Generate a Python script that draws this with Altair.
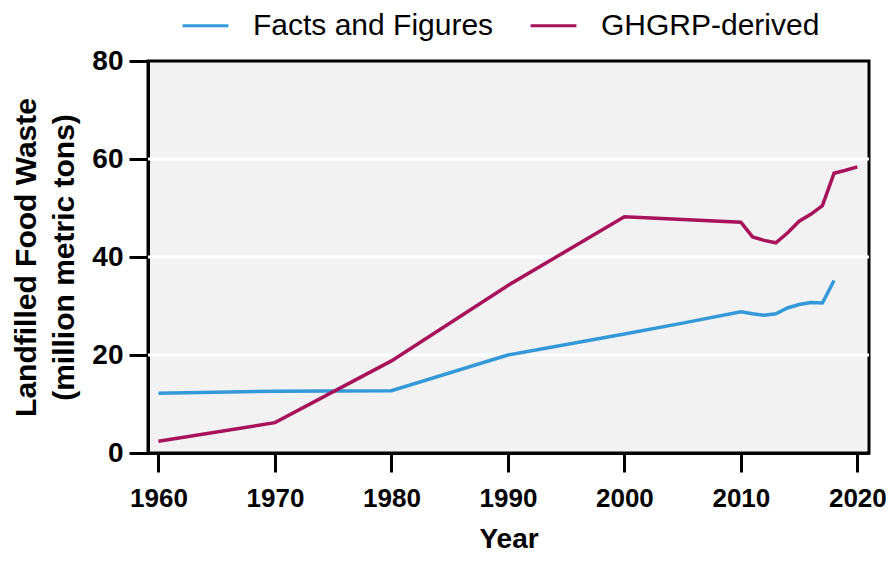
import altair as alt
import pandas as pd

ff_years = [1960, 1970, 1980, 1990, 2000, 2005, 2010, 2011, 2012, 2013, 2014, 2015, 2016, 2017, 2018]
ff_values = [12.2, 12.6, 12.7, 20.0, 24.3, 26.5, 28.8, 28.4, 28.1, 28.4, 29.6, 30.3, 30.7, 30.6, 35.2]

gh_years = [1960, 1970, 1980, 1990, 2000, 2010, 2011, 2012, 2013, 2014, 2015, 2016, 2017, 2018, 2019, 2020]
gh_values = [2.4, 6.2, 18.8, 34.2, 48.2, 47.1, 44.1, 43.4, 42.9, 44.9, 47.3, 48.7, 50.5, 57.1, 57.7, 58.4]

series_names = ["Facts and Figures", "GHGRP-derived"]
series_colors = ["#3399d9", "#a8125a"]
grid_values = [20, 40, 60]
x_ticks = [1960, 1970, 1980, 1990, 2000, 2010, 2020]
y_ticks = [0, 20, 40, 60, 80]

df = pd.concat([
    pd.DataFrame({"Year": ff_years, "Value": ff_values, "Series": series_names[0]}),
    pd.DataFrame({"Year": gh_years, "Value": gh_values, "Series": series_names[1]}),
])
grid_df = pd.DataFrame({"g": grid_values})

FONT = "Liberation Sans"

grid = alt.Chart(grid_df).mark_rule(color="white", strokeWidth=3).encode(
    y=alt.Y("g:Q", scale=alt.Scale(domain=[0, 80]))
)

lines = alt.Chart(df).mark_line(strokeWidth=3.5).encode(
    x=alt.X("Year:Q",
            scale=alt.Scale(domain=[1959.1, 2021.0], nice=False, zero=False),
            axis=alt.Axis(values=x_ticks, format="d", title="Year", grid=False,
                          labelFontSize=26, labelFontWeight="bold", labelColor="black",
                          titleFontSize=28, titleFontWeight="bold", titleColor="black",
                          domainColor="black", domainWidth=3, tickColor="black",
                          tickWidth=3, tickSize=19, labelPadding=13, titlePadding=14,
                          labelFont=FONT, titleFont=FONT)),
    y=alt.Y("Value:Q",
            scale=alt.Scale(domain=[0, 80], nice=False),
            axis=alt.Axis(values=y_ticks, grid=False,
                          title=["Landfilled Food Waste", "(million metric tons)"],
                          labelFontSize=28, labelFontWeight="bold", labelColor="black",
                          titleFontSize=30, titleFontWeight="bold", titleColor="black",
                          titleLineHeight=38,
                          domainColor="black", domainWidth=3, tickColor="black",
                          tickWidth=3, tickSize=19, labelPadding=6, titlePadding=12,
                          labelFont=FONT, titleFont=FONT)),
    color=alt.Color("Series:N",
                    scale=alt.Scale(domain=series_names, range=series_colors),
                    legend=alt.Legend(title=None, orient="none", direction="horizontal",
                                      legendX=33, legendY=-60,
                                      symbolType="stroke", symbolSize=2100,
                                      symbolStrokeWidth=3, labelFontSize=30,
                                      labelFont=FONT, labelColor="black",
                                      labelOffset=23, columnPadding=30, labelLimit=0)),
)

chart = alt.layer(grid, lines).properties(
    width=721, height=392,
    autosize=alt.AutoSizeParams(type="none"),
    padding={"left": 140, "top": 53, "right": 17, "bottom": 100},
).configure_view(
    fill="#f2f2f2", stroke="black", strokeWidth=3
)

chart.save("out.html", embed_options={"renderer": "svg", "actions": False})
